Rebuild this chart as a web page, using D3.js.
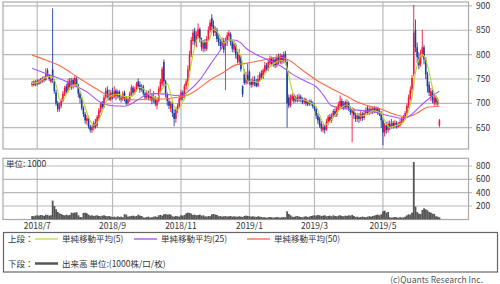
<!DOCTYPE html>
<html>
<head>
<meta charset="utf-8">
<script src="https://cdn.jsdelivr.net/npm/d3@7"></script>
<style>
  body { margin: 0; background: #fff; }
  svg { display: block; font-family: "Noto Sans CJK JP", "Noto Sans", sans-serif; }
</style>
</head>
<body>
<div class="canvas"></div>
<script>
// trading days per month, 2018/6 (tail) .. 2019/6
const monthDays = [3, 21, 23, 18, 22, 21, 19, 19, 19, 20, 20, 19, 15];
const monthNames = ['2018/6', '2018/7', '2018/8', '2018/9', '2018/10', '2018/11', '2018/12',
  '2019/1', '2019/2', '2019/3', '2019/4', '2019/5', '2019/6'];
const tickLabels = ['2018/7', '2018/9', '2018/11', '2019/1', '2019/3', '2019/5'];
const priceTicks = [650, 700, 750, 800, 850, 900];
const volumeTicks = [200, 400, 600, 800];

// daily candles: [open, high, low, close]
const prices = [
  [738,746,734,742],[744,747,735,738],[737,748,735,745],[745,749,737,741],[740,750,738,747],
  [748,752,740,744],[744,755,742,752],[752,756,744,748],[748,772,746,760],[768,772,755,758],
  [758,760,746,750],[744,754,742,750],[770,895,742,748],[745,750,720,725],[722,728,695,700],
  [700,705,682,688],[688,702,683,697],[695,710,690,706],[705,725,702,720],[718,736,715,732],
  [735,740,720,724],[725,750,722,745],[745,752,728,733],[732,752,728,748],[748,752,730,736],
  [737,758,733,752],[750,754,733,738],[738,740,712,720],[720,725,700,710],[708,712,686,690],
  [690,694,672,678],[678,682,658,665],[664,676,656,670],[668,672,648,652],[652,656,640,645],
  [645,656,639,652],[650,664,644,660],[660,668,648,652],[654,676,650,672],[670,690,665,685],
  [684,702,680,698],[700,705,688,692],[692,718,690,712],[712,732,708,725],[728,735,710,715],
  [718,728,705,708],[708,728,704,722],[722,732,708,712],[712,735,710,725],[726,730,706,715],
  [714,728,710,724],[724,727,706,712],[712,716,702,708],[708,725,705,720],[722,726,704,710],
  [710,714,696,700],[700,712,697,708],[706,724,703,720],[718,738,715,733],[732,736,716,722],
  [722,734,718,728],[728,744,724,740],[745,751,730,735],[738,745,722,728],[728,740,724,735],
  [734,738,716,720],[720,724,706,712],[712,727,708,722],[722,726,706,712],[710,730,705,716],
  [716,720,698,706],[706,725,700,712],[712,715,694,700],[696,712,688,706],[705,735,702,730],
  [728,750,722,745],[740,775,735,770],[785,790,735,745],[745,748,712,720],[718,722,695,705],
  [704,710,688,695],[690,705,682,700],[700,704,672,680],[680,688,653,668],[668,692,660,688],
  [686,700,680,695],[694,715,690,710],[708,728,705,722],[722,726,706,712],[712,740,708,735],
  [735,750,728,745],[745,778,740,770],[770,808,765,800],[800,836,795,830],[828,852,820,845],
  [848,855,818,825],[825,848,815,840],[838,864,832,852],[852,856,825,830],[830,835,808,815],
  [812,830,805,825],[826,832,806,812],[812,838,808,832],[832,858,828,850],[850,872,845,866],
  [875,883,850,858],[860,870,838,845],[845,858,838,852],[850,855,826,832],[835,840,818,825],
  [826,832,810,818],[818,835,812,828],[828,834,803,810],[818,835,727,828],[825,846,818,840],
  [838,850,830,845],[842,846,818,825],[825,830,805,812],[810,828,804,822],[820,824,792,800],
  [800,806,782,790],[785,812,780,800],[795,798,765,770],[735,737,713,718],[760,770,738,742],
  [742,765,738,752],[758,782,740,745],[765,768,738,745],[745,750,732,738],[738,755,734,748],
  [748,756,735,740],[742,750,733,735],[736,758,733,750],[748,765,745,760],[762,768,748,752],
  [752,772,750,768],[765,785,762,778],[778,783,765,770],[770,790,766,785],[782,798,778,792],
  [792,796,776,780],[780,795,775,790],[790,794,772,778],[778,800,774,795],[795,802,780,785],
  [784,803,780,798],[798,801,780,786],[785,806,782,800],[802,808,784,790],[785,790,650,700],
  [712,718,690,695],[696,718,692,712],[708,720,704,716],[716,720,700,705],[705,716,702,712],
  [712,718,702,706],[706,720,703,714],[714,718,702,708],[708,712,698,702],[702,712,698,708],
  [708,711,695,700],[702,706,694,698],[698,708,695,705],[704,708,695,700],[700,704,690,694],
  [694,700,684,688],[688,692,668,675],[675,680,658,665],[668,672,650,655],[658,663,642,648],
  [645,658,640,652],[652,656,638,645],[646,668,644,662],[660,676,656,672],[672,678,660,664],
  [664,680,660,676],[675,688,670,684],[684,690,672,676],[676,694,672,690],[688,703,684,698],
  [695,716,690,705],[705,710,688,692],[690,705,686,700],[702,706,688,692],[692,708,688,702],
  [700,704,684,690],[690,694,676,682],[680,692,620,688],[686,690,668,676],[676,680,662,668],
  [668,680,662,675],[676,680,660,668],[668,684,664,678],[678,682,664,670],[670,686,666,680],
  [680,692,676,686],[690,696,676,680],[680,694,676,688],[688,692,678,682],[682,694,678,690],
  [690,694,680,684],[684,694,680,690],[690,693,676,682],[684,690,674,678],[680,684,650,665],
  [665,670,614,640],[640,660,632,655],[655,662,638,645],[645,664,640,658],[658,665,645,650],
  [650,668,648,660],[660,664,648,652],[652,666,649,660],[660,664,648,652],[652,662,650,656],
  [655,668,652,662],[660,672,656,668],[665,676,660,672],[668,684,666,680],[680,700,676,695],
  [695,718,690,712],[710,735,706,728],[728,758,720,752],[760,902,755,845],[850,872,805,815],
  [815,825,782,795],[795,805,770,778],[780,810,775,800],[800,851,795,815],[815,820,780,790],
  [790,795,750,760],[760,765,722,735],[738,745,715,722],[715,732,705,725],[722,728,700,706],
  [700,718,695,712],[712,716,696,702],[698,712,694,708],[655,668,651,665]
];

// volume, unit 1000
const volumes = [
  50,45,55,60,55,65,60,50,70,65, 55,60,280,200,150,110,90,80,65,60,
  70,60,65,100,95,100,105,60,35,30, 95,100,90,70,55,60,50,55,60,50,
  45,55,60,50,45,50,40,35,40,30, 45,35,40,30,75,70,40,45,50,55,
  45,50,70,55,50,30,25,35,40,25, 30,40,45,35,60,65,55,75,80,70,
  75,70,45,40,50,45,40,60,55,65, 90,100,95,85,65,70,60,65,70,55,
  60,45,40,50,45,75,80,70,65,45, 50,40,45,50,40,45,50,40,45,40,
  40,45,40,35,50,55,50,45,40,45, 40,35,45,40,35,30,30,25,30,35,
  30,25,30,35,30,25,30,35,30,120, 80,60,40,35,45,50,40,35,30,40,
  45,35,40,50,55,60,55,65,60,50, 55,60,45,50,55,45,60,50,45,55,
  60,50,45,55,50,60,55,65,50,35, 40,30,35,40,35,30,40,45,40,50,
  55,65,70,60,75,120,130,100,110,30, 25,30,35,30,25,30,25,30,40,60,
  75,70,100,860,190,110,85,80,140,165, 150,135,110,100,85,80,45,40,30
];

// moving averages: [day index, value]
const ma5 = [[0,741],[4,744],[8,753],[11,755],[13,748],[15,724],[16,707],[18,707],[20,718],[23,736],
  [26,738],[28,726],[30,703],[33,672],[36,655],[39,666],[42,692],[44,708],[47,717],[51,718],
  [54,714],[58,714],[60,722],[63,733],[66,727],[69,717],[73,710],[76,729],[79,740],[81,718],
  [83,694],[85,686],[88,703],[91,730],[92,758],[94,800],[97,834],[100,826],[103,828],[106,852],
  [109,843],[112,824],[115,830],[117,830],[120,810],[122,796],[124,766],[126,745],[129,746],[132,743],
  [135,755],[138,771],[142,784],[146,788],[149,772],[151,740],[154,709],[158,708],[161,704],[166,693],
  [168,676],[171,656],[174,663],[177,676],[181,692],[184,697],[187,688],[192,674],[196,678],[199,685],
  [204,680],[206,664],[209,651],[213,655],[217,662],[220,685],[222,713],[224,762],[226,790],[228,800],
  [230,790],[232,764],[234,731],[236,714],[238,699]];
const ma25 = [[0,772],[6,764],[12,756],[18,748],[25,736],[33,721],[39,704],[47,695],[54,694],[58,699],
  [62,708],[66,716],[72,720],[78,719],[84,716],[88,717],[92,727],[98,748],[104,779],[110,809],
  [114,830],[118,830],[122,824],[125,813],[130,802],[138,789],[146,775],[152,760],[160,745],[166,734],
  [170,718],[175,695],[183,689],[190,686],[199,683],[209,674],[217,669],[222,678],[227,695],[233,713],
  [238,725]];
const ma50 = [[0,799],[8,789],[15,779],[23,762],[31,744],[37,731],[44,717],[54,710],[60,707],[69,709],
  [77,709],[82,711],[91,717],[96,727],[104,748],[112,764],[119,779],[125,782],[135,789],[144,795],
  [150,789],[158,768],[166,748],[173,734],[183,716],[192,700],[204,688],[213,676],[219,672],[225,680],
  [231,692],[238,694]];

const width = 500, height = 284;
const main = { left: 3, right: 468.5, top: 2, bottom: 149 };
const vol = { top: 158.3, bottom: 219.5 };
const gridColor = '#b9b9b9';
const upColor = '#f5153f', downColor = '#1f3f9f';

const svg = d3.select('.canvas')
  .append('svg')
  .attr('width', width)
  .attr('height', height);

const x = d3.scaleLinear().domain([-17, prices.length + 16]).range([main.left, main.right]);
const y = d3.scaleLinear().domain([650, 900]).range([127.7, 5.9]);
const yv = d3.scaleLinear().domain([0, 800]).range([219.3, 166]);

// month start indices
const monthStart = {};
let acc = 0;
monthNames.forEach((m, k) => { monthStart[m] = acc; acc += monthDays[k]; });

svg.append('defs').append('clipPath').attr('id', 'clipMain')
  .append('rect')
  .attr('x', main.left).attr('y', main.top)
  .attr('width', main.right - main.left).attr('height', main.bottom - main.top);

// grid
const grid = svg.append('g').attr('stroke', gridColor).attr('stroke-width', 1.2);
grid.selectAll('.hp').data(priceTicks).enter().append('line')
  .attr('x1', main.left).attr('x2', 472)
  .attr('y1', d => y(d)).attr('y2', d => y(d));
grid.selectAll('.hv').data(volumeTicks).enter().append('line')
  .attr('x1', main.left).attr('x2', 472)
  .attr('y1', d => yv(d)).attr('y2', d => yv(d));
tickLabels.forEach(t => {
  const xx = x(monthStart[t]);
  grid.append('line').attr('x1', xx).attr('x2', xx).attr('y1', main.top).attr('y2', main.bottom);
  grid.append('line').attr('x1', xx).attr('x2', xx).attr('y1', vol.top).attr('y2', vol.bottom);
});

// panel borders
[[main.top, main.bottom], [vol.top, vol.bottom]].forEach(([t, b]) => {
  svg.append('rect')
    .attr('x', main.left).attr('y', t)
    .attr('width', main.right - main.left).attr('height', b - t)
    .attr('fill', 'none').attr('stroke', '#aaa').attr('stroke-width', 1.2);
});

// candles
const plot = svg.append('g').attr('clip-path', 'url(#clipMain)');
const candle = plot.selectAll('.candle').data(prices).enter().append('g')
  .attr('class', 'candle');
candle.append('line')
  .attr('x1', (d, i) => x(i)).attr('x2', (d, i) => x(i))
  .attr('y1', d => y(d[1])).attr('y2', d => y(d[2]))
  .attr('stroke', d => d[3] >= d[0] ? upColor : downColor)
  .attr('stroke-width', 0.9);
candle.append('rect')
  .attr('x', (d, i) => x(i) - 0.8)
  .attr('width', 1.6)
  .attr('y', d => y(Math.max(d[0], d[3])))
  .attr('height', d => Math.max(1, Math.abs(y(d[0]) - y(d[3]))))
  .attr('fill', d => d[3] >= d[0] ? upColor : downColor);

// moving averages
const maLine = d3.line()
  .x(d => x(d[0]))
  .y(d => y(d[1]))
  .curve(d3.curveMonotoneX);
[[ma50, '#ff6a48'], [ma25, '#a855f7'], [ma5, '#b5d92b']].forEach(([data, color]) => {
  plot.append('path')
    .attr('fill', 'none')
    .attr('stroke', color)
    .attr('stroke-width', 1.1)
    .attr('d', maLine(data));
});

// volume bars
const step = x(1) - x(0);
svg.append('g').selectAll('rect').data(volumes).enter().append('rect')
  .attr('x', (d, i) => x(i) - step / 2)
  .attr('width', step + 0.1)
  .attr('y', d => yv(d))
  .attr('height', d => yv(0) - yv(d))
  .attr('fill', '#555');

// axis labels
const labels = svg.append('g').attr('fill', '#333').attr('font-size', 8.5);
labels.selectAll('.py').data(priceTicks).enter().append('text')
  .attr('x', 476).attr('y', d => y(d) + 3).text(d => d);
labels.selectAll('.vy').data(volumeTicks).enter().append('text')
  .attr('x', 476).attr('y', d => yv(d) + 3).text(d => d);
labels.selectAll('.xl').data(tickLabels).enter().append('text')
  .attr('x', d => x(monthStart[d]))
  .attr('y', 229)
  .attr('text-anchor', 'middle')
  .text(d => d);
labels.append('text').attr('x', 6).attr('y', 167).text('単位: 1000');

// legend
const legend = svg.append('g').attr('font-size', 8.5).attr('fill', '#333');
legend.append('rect')
  .attr('x', 3.5).attr('y', 232.5).attr('width', 494).attr('height', 39.5)
  .attr('fill', 'none').attr('stroke', '#666').attr('stroke-width', 1.2);
legend.append('text').attr('x', 8).attr('y', 242).text('上段：');
legend.append('text').attr('x', 8).attr('y', 266.5).text('下段：');
const legendItems = [
  { x: 35, y: 239, color: '#c2e05a', w: 1.5, label: '単純移動平均(5)' },
  { x: 134, y: 239, color: '#b060f5', w: 1.5, label: '単純移動平均(25)' },
  { x: 247, y: 239, color: '#ff7a5c', w: 1.5, label: '単純移動平均(50)' },
  { x: 35, y: 263.5, color: '#555', w: 2.5, label: '出来高 単位:(1000株/口/枚)' }
];
legendItems.forEach(it => {
  legend.append('line')
    .attr('x1', it.x).attr('x2', it.x + 23)
    .attr('y1', it.y).attr('y2', it.y)
    .attr('stroke', it.color).attr('stroke-width', it.w);
  legend.append('text').attr('x', it.x + 27).attr('y', it.y + 3).text(it.label);
});

svg.append('text')
  .attr('x', 483).attr('y', 283)
  .attr('text-anchor', 'end')
  .attr('font-size', 8.5)
  .attr('fill', '#555')
  .text('(c)Quants Research Inc.');
</script>
</body>
</html>
